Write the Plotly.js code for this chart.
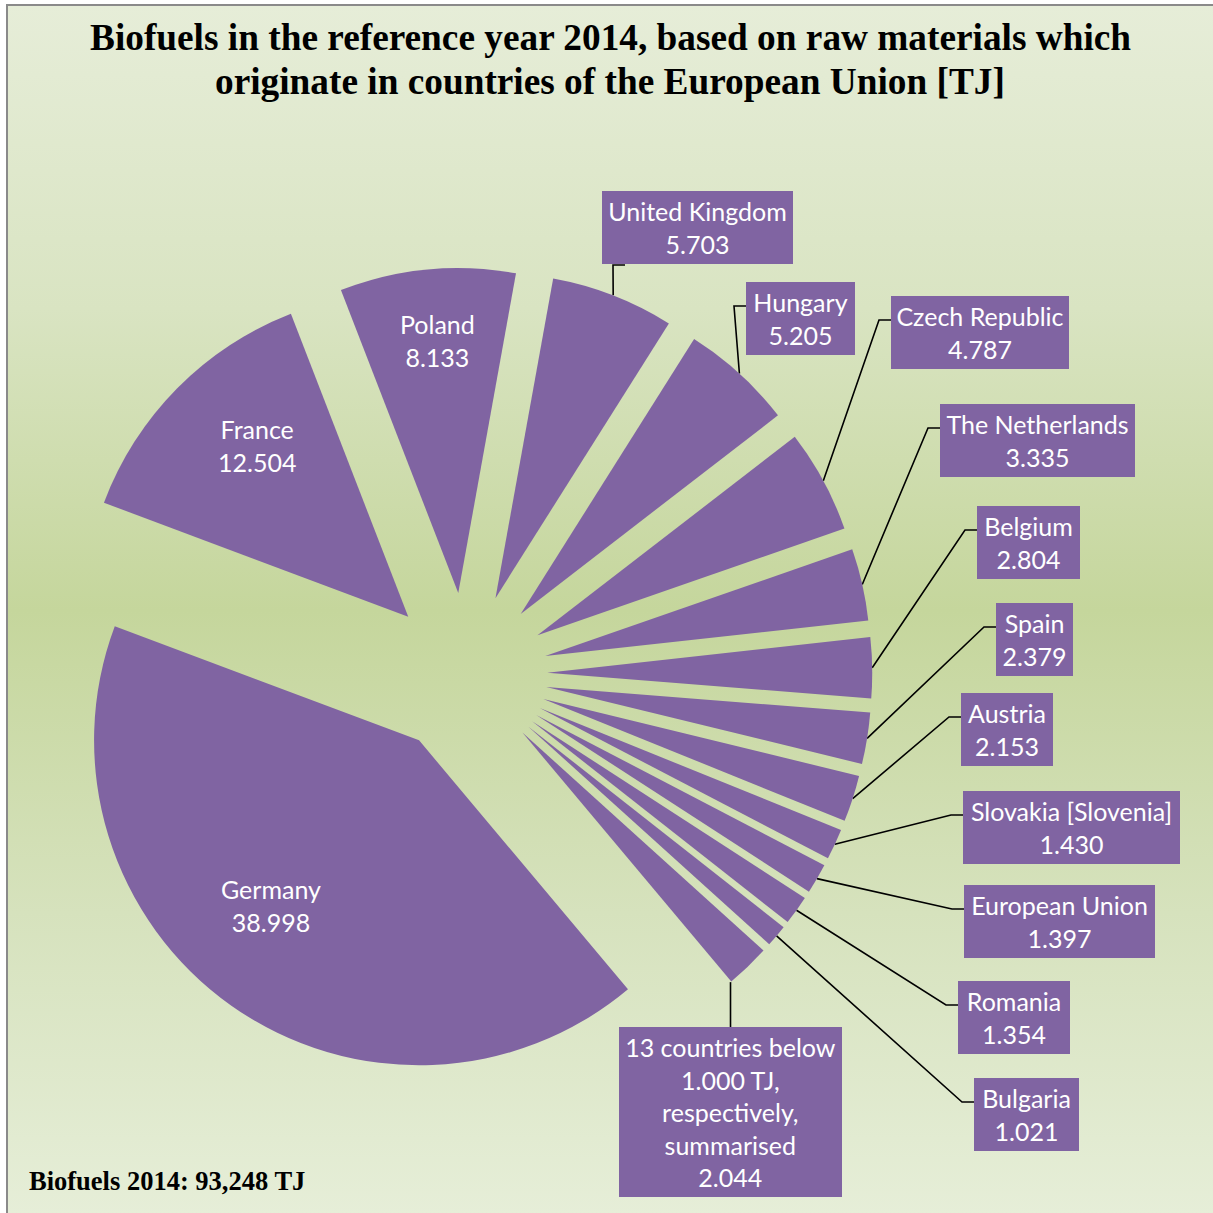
<!DOCTYPE html>
<html>
<head>
<meta charset="utf-8">
<script src="https://cdn.plot.ly/plotly-3.0.1.min.js"></script>
<style>
  html, body { margin: 0; padding: 0; background: #ffffff; }
  #wrap { position: relative; width: 1213px; height: 1213px; overflow: hidden; background: #ffffff; }
  #bg { position: absolute; left: 6px; top: 4px; width: 1205px; height: 1209px;
        border-top: 2px solid #8a8a8a; border-left: 2px solid #8a8a8a; border-right: 1px solid #d0d6c8;
        background: linear-gradient(to bottom, #e6edd8 0%, #d9e4c2 25%, #c5d69c 50%, #d6e2bd 75%, #e6eed8 100%); }
  #chart { position: absolute; left: 0; top: 0; width: 1213px; height: 1213px; }
</style>
</head>
<body>
<div id="wrap"><div id="bg"></div><div id="chart"></div></div>
<script>
// ---- data ----
const countries = ["Germany", "France", "Poland", "United Kingdom", "Hungary", "Czech Republic",
  "The Netherlands", "Belgium", "Spain", "Austria", "Slovakia [Slovenia]", "European Union",
  "Romania", "Bulgaria", "13 countries below 1.000 TJ, respectively, summarised"];
const labelLines = ["Germany", "France", "Poland", "United Kingdom", "Hungary", "Czech Republic",
  "The Netherlands", "Belgium", "Spain", "Austria", "Slovakia [Slovenia]", "European Union",
  "Romania", "Bulgaria", "13 countries below<br>1.000 TJ,<br>respectively,<br>summarised"];
const valuesTJ = [38998, 12504, 8133, 5703, 5205, 4787, 3335, 2804, 2379, 2153, 1430, 1397, 1354, 1021, 2044];
const totalTJ = 93248;
const titleLines = ["Biofuels in the reference year 2014, based on raw materials which",
  "originate in countries of the European Union [TJ]"];
const totalLabel = "Biofuels 2014: ";

// ---- layout helpers (positions / styles) ----
const W = 1213, H = 1213;
const PURPLE = "#8064A2";
const PULL = 0.25;
// label boxes in pixel space: [centerX, centerY, width, height, attach]
const boxes = [
  [271, 905, 0, 0, "inside"],
  [257, 445, 0, 0, "inside"],
  [437, 340, 0, 0, "inside"],
  [697.5, 227.5, 191, 73, "bottom"],
  [800.5, 318.5, 109, 73, "left"],
  [980, 332.5, 178, 73, "left"],
  [1037.5, 440.5, 195, 73, "left"],
  [1028.5, 542.5, 103, 73, "left"],
  [1034.5, 639.5, 77, 73, "left"],
  [1007, 729.5, 92, 73, "left"],
  [1071.5, 827.5, 217, 73, "left"],
  [1059.5, 921.5, 191, 73, "left"],
  [1014, 1017.5, 112, 73, "left"],
  [1026.5, 1114.5, 105, 73, "left"],
  [730.5, 1112, 223, 170, "top"]
];
const titleY = [37.5, 81];
const px = x => x / W;
const py = y => 1 - y / H;

function fmtDot(v) {
  const th = Math.floor(v / 1000), r = v % 1000;
  return th + "." + String(r).padStart(3, "0");
}
function fmtComma(v) {
  const th = Math.floor(v / 1000), r = v % 1000;
  return th + "," + String(r).padStart(3, "0");
}

const labelFont = { family: "Lato, 'Noto Sans', sans-serif", size: 25, color: "#ffffff" };
const serif = "'Liberation Serif', 'Times New Roman', serif";

const annotations = boxes.map((b, i) => {
  const a = {
    xref: "paper", yref: "paper", x: px(b[0]), y: py(b[1]),
    xanchor: "center", yanchor: "middle", showarrow: false,
    text: labelLines[i] + "<br>" + fmtDot(valuesTJ[i]),
    font: labelFont, align: "center", valign: "middle"
  };
  if (b[4] !== "inside") {
    a.bgcolor = PURPLE; a.borderpad = 0; a.borderwidth = 0;
    a.width = b[2]; a.height = b[3];
  }
  return a;
});
annotations.push({
  xref: "paper", yref: "paper", x: px(27), y: py(1181), xanchor: "left", yanchor: "middle",
  showarrow: false, text: "<b>" + totalLabel + fmtComma(totalTJ) + " TJ</b>",
  font: { family: serif, size: 26.5, color: "#000000" }
});
titleLines.forEach((t, i) => {
  annotations.push({
    xref: "paper", yref: "paper", x: px(610), y: py(titleY[i]), xanchor: "center", yanchor: "middle",
    showarrow: false, text: "<b>" + t + "</b>",
    font: { family: serif, size: 37.3, color: "#000000" }
  });
});

const trace = {
  type: "pie",
  labels: countries,
  values: valuesTJ,
  sort: false,
  direction: "clockwise",
  rotation: 140,
  pull: valuesTJ.map(() => PULL),
  marker: { colors: valuesTJ.map(() => PURPLE), line: { width: 0 } },
  textinfo: "none",
  hoverinfo: "label+value",
  showlegend: false,
  domain: { x: [(466 - 406.25) / W, (466 + 406.25) / W], y: [1 - 1080.25 / H, 1 - 267.75 / H] }
};

const layout = {
  width: W, height: H,
  margin: { l: 0, r: 0, t: 0, b: 0, pad: 0 },
  paper_bgcolor: "rgba(0,0,0,0)",
  plot_bgcolor: "rgba(0,0,0,0)",
  annotations: annotations,
  showlegend: false
};

const gd = document.getElementById("chart");
Plotly.newPlot(gd, [trace], layout, { displayModeBar: false, staticPlot: true }).then(() => {
  const cd = gd.calcdata[0];
  const cd0 = cd[0];
  const cx = cd0.cx, cy = cd0.cy, r = cd0.r;
  const shapes = [];
  cd.forEach((pt, i) => {
    const b = boxes[i];
    if (b[4] === "inside") return;
    const pull = (pt.pull || PULL);
    const ax = cx + pt.pxmid[0] * pull, ay = cy + pt.pxmid[1] * pull; // slice apex
    const ex = ax + pt.pxmid[0], ey = ay + pt.pxmid[1];                // outer arc at bisector
    let pts;
    const left = b[0] - b[2] / 2, top = b[1] - b[3] / 2, bottom = b[1] + b[3] / 2;
    if (b[4] === "left") {
      pts = [[ex, ey], [left - 12, top + 24], [left, top + 24]];
    } else if (b[4] === "bottom") {
      pts = [[ex, ey], [left + 11, bottom + 1], [left + 23, bottom + 1]];
    } else {
      // vertical leader from the box top centre up to the slice's outer arc
      const s = Math.max(-1, Math.min(1, (b[0] - ax) / r));
      const th = Math.PI - Math.asin(s);
      const hy = ay - r * Math.cos(th);
      pts = [[b[0], hy], [b[0], top]];
    }
    const path = pts.map((p, j) => (j ? "L" : "M") + px(p[0]).toFixed(5) + "," + py(p[1]).toFixed(5)).join(" ");
    shapes.push({ type: "path", xref: "paper", yref: "paper", path: path,
      line: { color: "#000000", width: 1.6 }, layer: "below" });
  });
  return Plotly.relayout(gd, { shapes: shapes });
});
</script>
</body>
</html>
